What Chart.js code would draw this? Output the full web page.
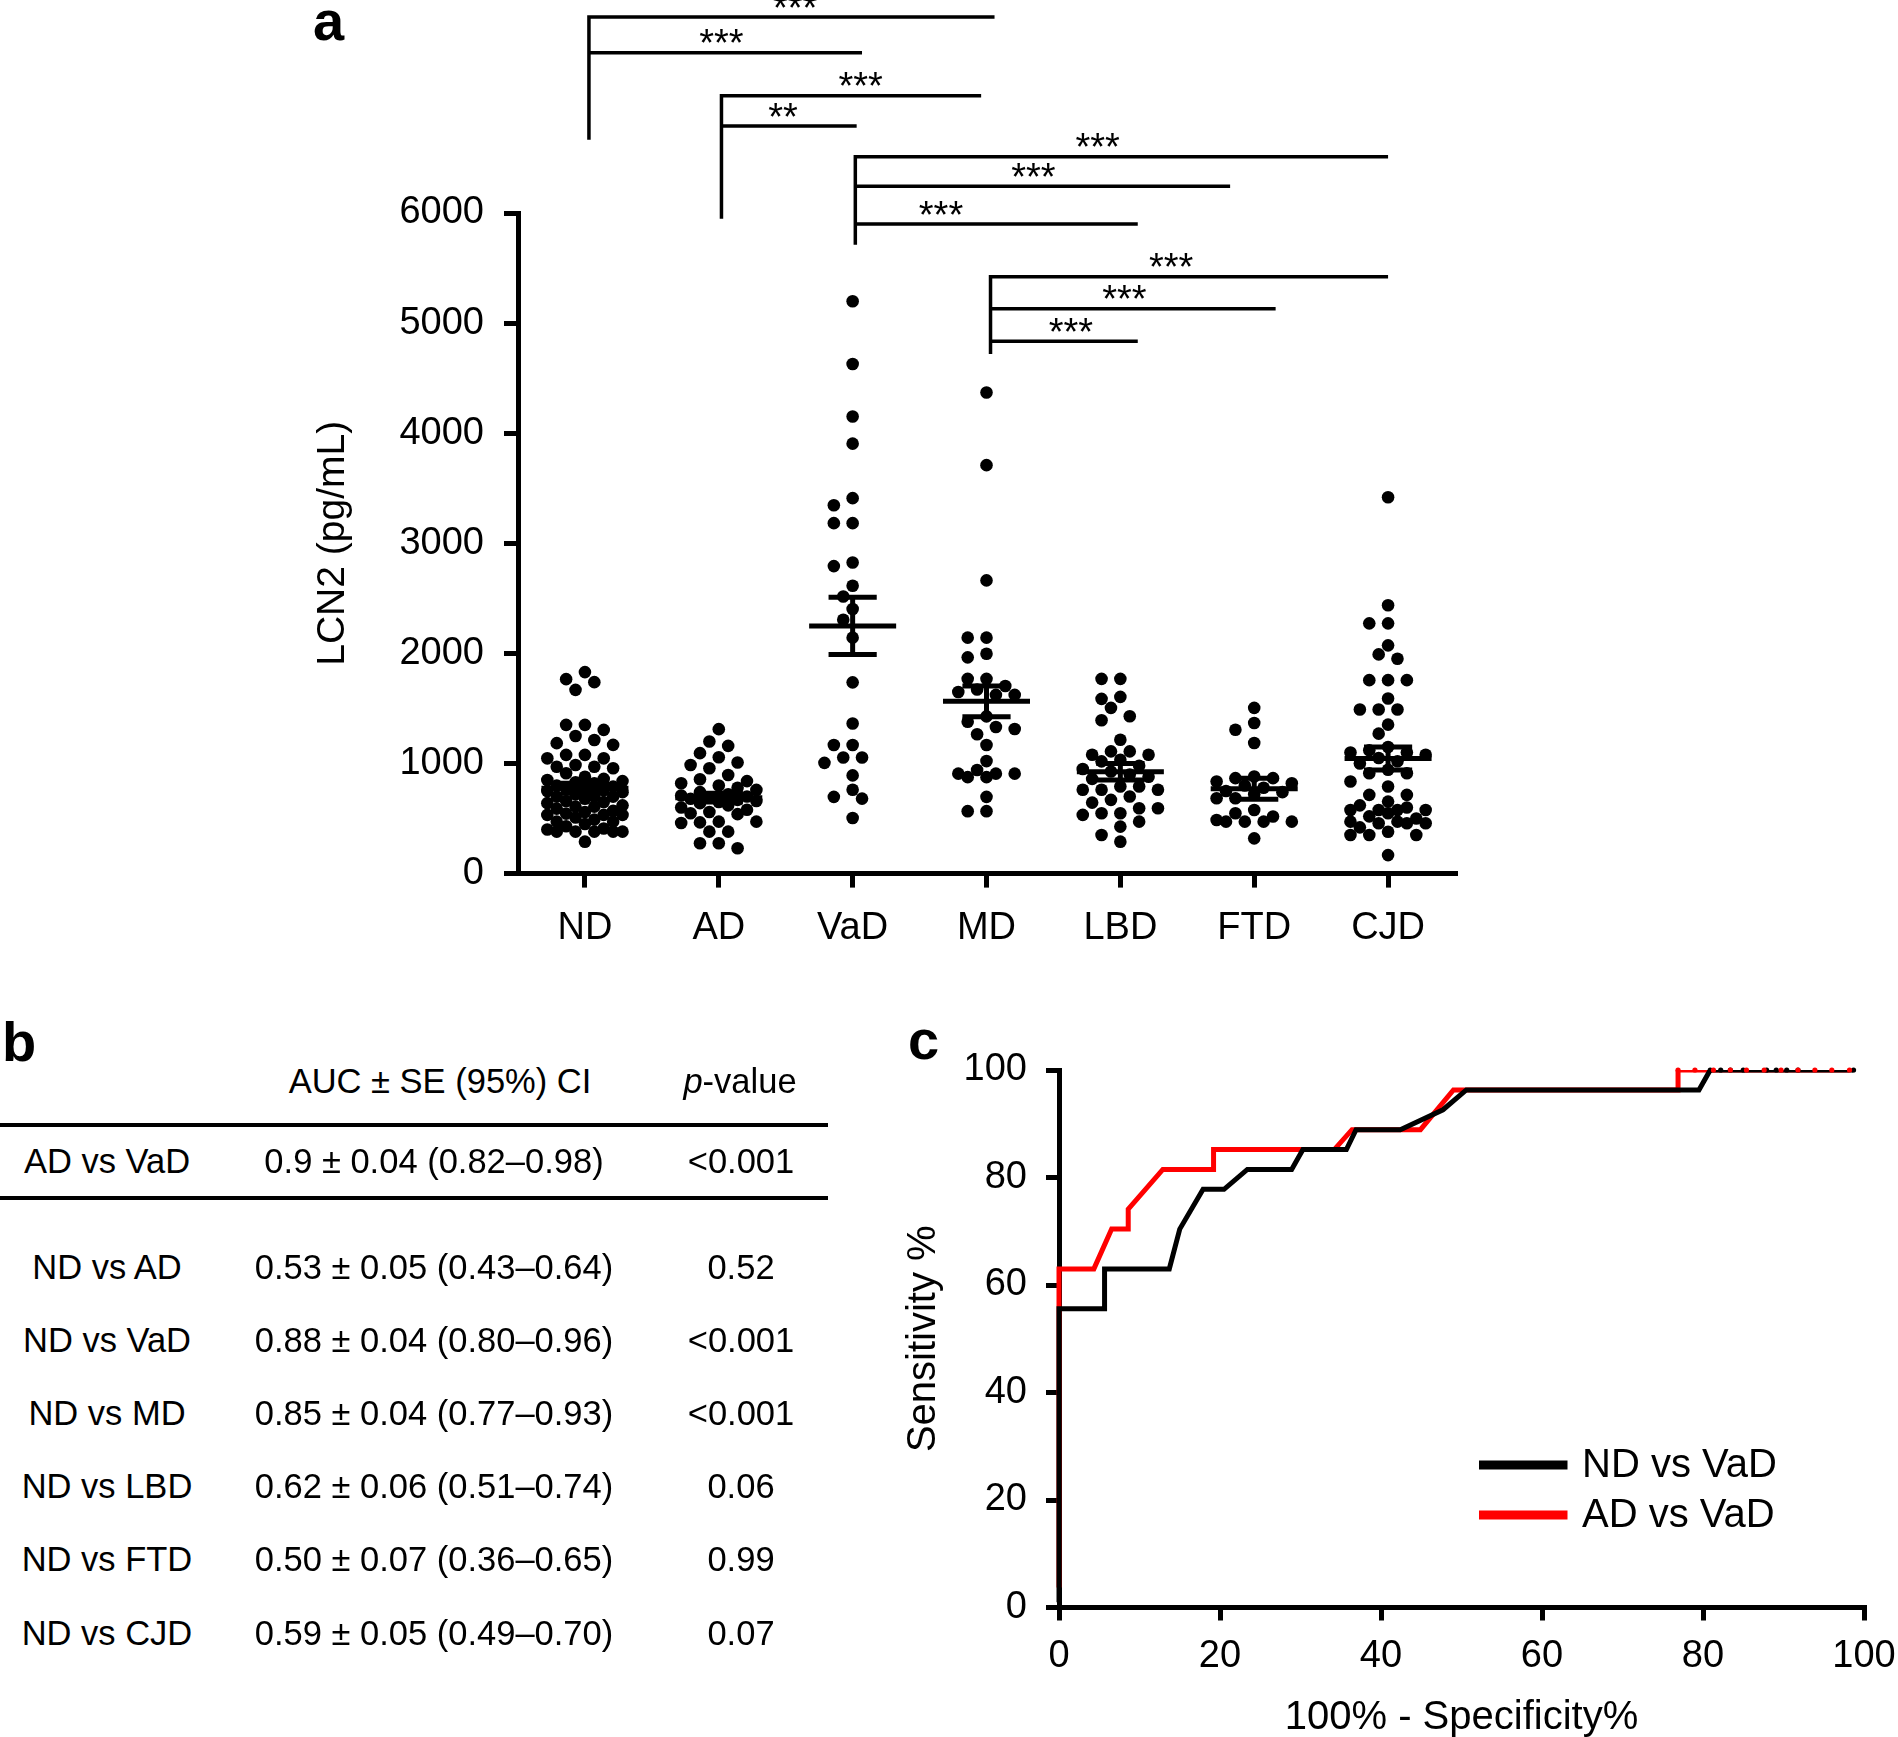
<!DOCTYPE html>
<html>
<head>
<meta charset="utf-8">
<script src="https://cdn.jsdelivr.net/npm/chart.js@4.4.0/dist/chart.umd.min.js"></script>
<style>
  html, body { margin: 0; padding: 0; background: #fff; }
  body { width: 1898px; height: 1737px; position: relative; overflow: hidden;
         font-family: 'Liberation Sans', Arial, Helvetica, sans-serif; color: #000; }
  canvas { position: absolute; }
  .lbl { position: absolute; font-weight: bold; font-size: 56px; line-height: 56px; }
  .cell { position: absolute; font-size: 34.5px; line-height: 34px; width: 600px; text-align: center; white-space: nowrap; }
  .rule { position: absolute; left: 0; width: 828px; height: 4px; background: #000; }
</style>
</head>
<body>
<canvas id="chartA" width="1520" height="1000" style="left:0;top:0;"></canvas>
<canvas id="chartC" width="998" height="707" style="left:900px;top:1030px;"></canvas>
<div class="lbl" style="left:313px;top:-7px;">a</div>
<div class="lbl" style="left:2px;top:1014px;">b</div>
<div class="lbl" style="left:908px;top:1012px;">c</div>
<div id="table"></div>
<script>
// ---------------- Panel a data ----------------
const categories = ['ND', 'AD', 'VaD', 'MD', 'LBD', 'FTD', 'CJD'];
const ndValues = [1830, 1766, 1739, 1669, 1351, 1351, 1305, 1250, 1214, 1185, 1169,
  1078, 1078, 1047, 1047, 987, 970, 970, 957, 911,
  880, 860, 850, 840, 830, 820, 800, 790, 780, 770, 760, 750, 740,
  720, 700, 699, 699, 680, 660, 650, 640,
  620, 608, 608, 590, 570, 560, 545, 533, 533, 533,
  510, 490, 472, 472, 450, 430, 410, 400, 381, 381, 381, 381, 381, 290];
const adValues = [1312, 1200, 1160, 1094, 1057, 1009, 987, 957, 896, 857, 840, 820,
  800, 780, 760, 740, 720, 710, 700, 690, 680, 670, 660, 650, 640, 620, 600, 580,
  560, 548, 540, 472, 472, 465, 460, 381, 381, 275, 275, 230];
const vadValues = [5198, 4629, 4152, 3905, 3410, 3345, 3183, 3183, 2826, 2793, 2615,
  2517, 2403, 2305, 2143, 1737, 1363, 1168, 1168, 1054, 1054, 1006, 892, 762, 697, 681, 505];
const mdValues = [4369, 3710, 2663, 2143, 2143, 1997, 1964, 1769, 1769, 1704, 1672, 1650,
  1623, 1623, 1428, 1379, 1331, 1314, 1266, 1168, 1022, 941, 908, 908, 908, 876, 876, 697, 567, 567];
const lbdValues = [1769, 1769, 1605, 1587, 1505, 1429, 1393, 1216, 1110, 1110, 1080, 1080,
  1034, 1019, 980, 950, 928, 900, 880, 860, 791, 791, 761, 761, 761, 700, 670, 645,
  594, 594, 548, 548, 533, 472, 427, 351, 290];
const ftdValues = [1505, 1368, 1307, 1186, 882, 867, 867, 836, 821, 800, 780, 750, 740,
  720, 685, 685, 578, 548, 518, 487, 472, 472, 472, 472, 320];
const cjdValues = [3418, 2437, 2273, 2273, 2073, 1991, 1951, 1757, 1757, 1757, 1590,
  1490, 1490, 1490, 1353, 1271, 1150, 1120, 1100, 1100, 1080, 1050, 1020, 1000, 943,
  912, 912, 837, 791, 715, 715, 654, 620, 600, 578, 578, 578, 578, 548, 520, 500, 472,
  472, 457, 457, 457, 420, 380, 351, 351, 351, 168];
const groupMeans = [775, 690, 2250, 1565, 925, 770, 1045];
const groupSEMs = [45, 40, 260, 140, 75, 95, 105];
const yTicksA = [0, 1000, 2000, 3000, 4000, 5000, 6000];

// significance brackets (values in LCN2 units, x in category units)
const bracketStarts = [0.03, 1.02, 2.02, 3.03];
const bracketBottoms = [6665, 5948, 5712, 4720];
const bracketLevels = [[7780, 7455], [7065, 6790], [6510, 6242, 5900], [5420, 5130, 4835]];
const bracketEnds = [[3.06, 2.07], [2.96, 2.03], [6.0, 4.82, 4.13], [6.0, 5.16, 4.13]];
const bracketStars = [['***', '***'], ['***', '**'], ['***', '***', '***'], ['***', '***', '***']];
const starCenters = [[1.57, 1.02], [2.06, 1.48], [3.83, 3.35, 2.66], [4.38, 4.03, 3.63]];

// ---------------- Panel b data ----------------
const tableHeader = ['', 'AUC ± SE (95%) CI', '<i>p</i>-value'];
const comparisons = ['AD vs VaD', 'ND vs AD', 'ND vs VaD', 'ND vs MD', 'ND vs LBD', 'ND vs FTD', 'ND vs CJD'];
const aucTexts = ['0.9 ± 0.04 (0.82–0.98)', '0.53 ± 0.05 (0.43–0.64)', '0.88 ± 0.04 (0.80–0.96)',
  '0.85 ± 0.04 (0.77–0.93)', '0.62 ± 0.06 (0.51–0.74)', '0.50 ± 0.07 (0.36–0.65)', '0.59 ± 0.05 (0.49–0.70)'];
const pValues = ['<0.001', '0.52', '<0.001', '<0.001', '0.06', '0.99', '0.07'];

// ---------------- Panel c data ----------------
const rocNDvsVaD = [[0, 1], [0, 55.6], [5.66, 55.6], [5.66, 63.0], [13.7, 63.0], [15.0, 70.4],
  [17.9, 77.8], [20.5, 77.8], [23.4, 81.5], [28.9, 81.5], [30.3, 85.2], [35.7, 85.2],
  [36.9, 88.9], [42.4, 88.9], [47.7, 92.6], [50.6, 96.3], [79.5, 96.3], [80.9, 100],
  [82.2, 100], [83.4, 100], [85.0, 100], [87.9, 100], [89.1, 100], [90.4, 100], [91.8, 100], [98.7, 100]];
const rocADvsVaD = [[0, 3.7], [0, 63.0], [4.33, 63.0], [6.54, 70.4], [8.6, 70.4], [8.6, 74.1],
  [12.9, 81.5], [19.2, 81.5], [19.2, 85.2], [34.2, 85.2], [36.4, 88.9], [44.9, 88.9],
  [49.0, 96.3], [76.9, 96.3], [76.9, 100], [79.0, 100], [81.3, 100], [83.4, 100], [85.4, 100],
  [87.6, 100], [89.7, 100], [91.8, 100], [93.9, 100], [96.0, 100], [98.2, 100]];
const rocLabels = ['ND vs VaD', 'AD vs VaD'];
const rocColors = ['#000000', '#ff0000'];
const rocTicks = [0, 20, 40, 60, 80, 100];

// ======================================================
const FONT = "'Liberation Sans', Arial, Helvetica, sans-serif";
Chart.defaults.font.family = FONT;
Chart.defaults.color = '#000';

const groupValues = [ndValues, adValues, vadValues, mdValues, lbdValues, ftdValues, cjdValues];

const axisGrid = { drawOnChartArea: false, drawTicks: true, tickLength: 14, lineWidth: 5, color: '#000' };
const axisBorder = { display: true, width: 5, color: '#000' };
const noPad = s => { s.paddingLeft = 0; s.paddingRight = 0; s.paddingTop = 0; s.paddingBottom = 0; };

const meanSemPlugin = {
  id: 'meanSem',
  afterDatasetsDraw(chart) {
    const { ctx, scales: { x, y } } = chart;
    ctx.save();
    ctx.strokeStyle = '#000';
    ctx.lineWidth = 5;
    ctx.lineCap = 'butt';
    groupMeans.forEach((m, i) => {
      const s = groupSEMs[i];
      const yM = y.getPixelForValue(m), yT = y.getPixelForValue(m + s), yB = y.getPixelForValue(m - s);
      ctx.beginPath();
      ctx.moveTo(x.getPixelForValue(i - 0.325), yM); ctx.lineTo(x.getPixelForValue(i + 0.325), yM);
      ctx.moveTo(x.getPixelForValue(i), yT - 2.5); ctx.lineTo(x.getPixelForValue(i), yB + 2.5);
      ctx.moveTo(x.getPixelForValue(i - 0.18), yT); ctx.lineTo(x.getPixelForValue(i + 0.18), yT);
      ctx.moveTo(x.getPixelForValue(i - 0.18), yB); ctx.lineTo(x.getPixelForValue(i + 0.18), yB);
      ctx.stroke();
    });
    ctx.restore();
  }
};

const bracketPlugin = {
  id: 'brackets',
  afterDraw(chart) {
    const { ctx, scales: { x, y } } = chart;
    ctx.save();
    ctx.strokeStyle = '#000';
    ctx.fillStyle = '#000';
    ctx.lineWidth = 3.5;
    ctx.lineCap = 'butt';
    ctx.lineJoin = 'miter';
    ctx.font = '38px ' + FONT;
    ctx.textAlign = 'center';
    ctx.textBaseline = 'alphabetic';
    bracketStarts.forEach((x0v, i) => {
      const x0 = x.getPixelForValue(x0v);
      const levels = bracketLevels[i];
      ctx.beginPath();
      ctx.moveTo(x0, y.getPixelForValue(bracketBottoms[i]));
      ctx.lineTo(x0, y.getPixelForValue(levels[0]));
      ctx.lineTo(x.getPixelForValue(bracketEnds[i][0]), y.getPixelForValue(levels[0]));
      for (let k = 1; k < levels.length; k++) {
        ctx.moveTo(x0, y.getPixelForValue(levels[k]));
        ctx.lineTo(x.getPixelForValue(bracketEnds[i][k]), y.getPixelForValue(levels[k]));
      }
      ctx.stroke();
      levels.forEach((lv, k) => {
        ctx.fillText(bracketStars[i][k], x.getPixelForValue(starCenters[i][k]), y.getPixelForValue(lv) + 3.5);
      });
    });
    ctx.restore();
  }
};

const chartA = new Chart(document.getElementById('chartA'), {
  type: 'scatter',
  data: {
    datasets: groupValues.map((vals, gi) => ({
      label: categories[gi],
      data: vals.map(v => ({ x: gi, y: v })),
      backgroundColor: '#000',
      borderWidth: 0,
      pointRadius: 6.3,
      pointHoverRadius: 6.3
    }))
  },
  options: {
    responsive: false,
    animation: false,
    devicePixelRatio: 1,
    events: [],
    layout: { padding: { left: 0, top: 213, right: 65, bottom: 46.4 } },
    plugins: { legend: { display: false }, tooltip: { enabled: false } },
    scales: {
      x: {
        type: 'linear', min: -0.5, max: 6.5,
        afterBuildTicks: s => { s.ticks = categories.map((c, i) => ({ value: i })); },
        afterFit: s => { s.height = 80; noPad(s); },
        ticks: { callback: v => categories[v], font: { size: 38 }, color: '#000', padding: 18, autoSkip: false, maxRotation: 0 },
        grid: axisGrid, border: axisBorder
      },
      y: {
        type: 'linear', min: 0, max: 6000,
        afterBuildTicks: s => { s.ticks = yTicksA.map(v => ({ value: v })); },
        afterFit: s => { s.width = 518; noPad(s); },
        ticks: { callback: v => String(v), font: { size: 38 }, color: '#000', padding: 20 },
        grid: axisGrid, border: axisBorder,
        title: { display: true, text: 'LCN2 (pg/mL)', font: { size: 39 }, color: '#000', padding: { top: 310, bottom: 0 } }
      }
    }
  },
  plugins: [meanSemPlugin, bracketPlugin]
});

// beeswarm placement computed in pixel space from the library's scales
(function layoutSwarm() {
  const xs = chartA.scales.x, ys = chartA.scales.y;
  const unit = xs.getPixelForValue(1) - xs.getPixelForValue(0);
  const STEP = 18.8, DIAM = 12.6;
  const order = [0, -0.5, 0.5, -1, 1, -1.5, 1.5, -2, 2];
  groupValues.forEach((vals, gi) => {
    const placed = [];
    const sorted = vals.slice().sort((a, b) => b - a);
    const pts = sorted.map(v => {
      const py = ys.getPixelForValue(v);
      let best = 0, bestD = -1;
      for (const k of order) {
        const px = k * STEP;
        let minD = Infinity;
        for (const p of placed) {
          const d = Math.hypot(p.px - px, p.py - py);
          if (d < minD) minD = d;
        }
        if (minD >= DIAM) { best = px; bestD = Infinity; break; }
        if (minD > bestD) { bestD = minD; best = px; }
      }
      placed.push({ px: best, py });
      return { x: gi + best / unit, y: v };
    });
    chartA.data.datasets[gi].data = pts;
  });
  chartA.update('none');
})();

// ---------------- Panel b table ----------------
(function buildTable() {
  const t = document.getElementById('table');
  const colCenters = [107, 434, 741];
  function cell(html, cx, cy) {
    const d = document.createElement('div');
    d.className = 'cell';
    d.style.left = (cx - 300) + 'px';
    d.style.top = (cy - 17) + 'px';
    d.innerHTML = html;
    t.appendChild(d);
  }
  const esc = s => s.replace(/&/g, '&amp;').replace(/</g, '&lt;');
  cell(tableHeader[1], 440, 1081);
  cell(tableHeader[2], 740, 1081);
  const rowY = [1161, 1267, 1340, 1413, 1486, 1559, 1633];
  comparisons.forEach((c, i) => {
    cell(esc(c), colCenters[0], rowY[i]);
    cell(esc(aucTexts[i]), colCenters[1], rowY[i]);
    cell(esc(pValues[i]), colCenters[2], rowY[i]);
  });
  [1123, 1196].forEach(y => {
    const r = document.createElement('div');
    r.className = 'rule';
    r.style.top = y + 'px';
    t.appendChild(r);
  });
})();

// ---------------- Panel c ROC ----------------
const topDotsPlugin = {
  id: 'topDots',
  afterDatasetsDraw(chart) {
    const { ctx, scales: { x, y } } = chart;
    ctx.save();
    chart.data.datasets.forEach(ds => {
      ctx.fillStyle = ds.borderColor;
      ds.data.filter(p => p.y >= 100).forEach(p => {
        ctx.beginPath();
        ctx.arc(x.getPixelForValue(p.x), y.getPixelForValue(p.y), 2.6, 0, Math.PI * 2);
        ctx.fill();
      });
    });
    ctx.restore();
  }
};
const rocLegendPlugin = {
  id: 'rocLegend',
  afterDraw(chart) {
    const { ctx } = chart;
    ctx.save();
    ctx.font = '40px ' + FONT;
    ctx.textBaseline = 'middle';
    ctx.textAlign = 'left';
    chart.data.datasets.forEach((ds, i) => {
      const yy = 435 + i * 50;
      ctx.strokeStyle = ds.borderColor;
      ctx.lineWidth = 9;
      ctx.beginPath();
      ctx.moveTo(579, yy); ctx.lineTo(667.5, yy);
      ctx.stroke();
      ctx.fillStyle = '#000';
      ctx.fillText(ds.label, 682, yy + 1);
    });
    ctx.restore();
  }
};
const gridC = { drawOnChartArea: false, drawTicks: true, tickLength: 13, lineWidth: 5, color: '#000' };
new Chart(document.getElementById('chartC'), {
  type: 'line',
  data: {
    datasets: [rocNDvsVaD, rocADvsVaD].map((pts, i) => ({
      label: rocLabels[i],
      data: pts.map(p => ({ x: p[0], y: p[1] })),
      borderColor: rocColors[i],
      backgroundColor: rocColors[i],
      borderWidth: 5,
      pointRadius: 0,
      tension: 0,
      fill: false,
      clip: { left: 10, top: 0, right: 10, bottom: 10 }
    }))
  },
  options: {
    responsive: false,
    animation: false,
    devicePixelRatio: 1,
    events: [],
    layout: { padding: { left: 0, top: 40, right: 34, bottom: 0 } },
    plugins: { legend: { display: false }, tooltip: { enabled: false } },
    scales: {
      x: {
        type: 'linear', min: 0, max: 100,
        afterBuildTicks: s => { s.ticks = rocTicks.map(v => ({ value: v })); },
        afterFit: s => { s.height = 129.5; noPad(s); },
        ticks: { font: { size: 38 }, color: '#000', padding: 13, maxRotation: 0 },
        grid: gridC, border: axisBorder,
        title: { display: true, text: '100% - Specificity%', font: { size: 40 }, color: '#000', padding: { top: 0, bottom: -5 } }
      },
      y: {
        type: 'linear', min: 0, max: 100,
        afterBuildTicks: s => { s.ticks = rocTicks.map(v => ({ value: v })); },
        afterFit: s => { s.width = 159; noPad(s); },
        ticks: { font: { size: 38 }, color: '#000', padding: 19 },
        grid: gridC, border: axisBorder,
        title: { display: true, text: 'Sensitivity %', font: { size: 40 }, color: '#000', padding: { top: 0, bottom: 0 } }
      }
    }
  },
  plugins: [topDotsPlugin, rocLegendPlugin]
});
</script>
</body>
</html>
